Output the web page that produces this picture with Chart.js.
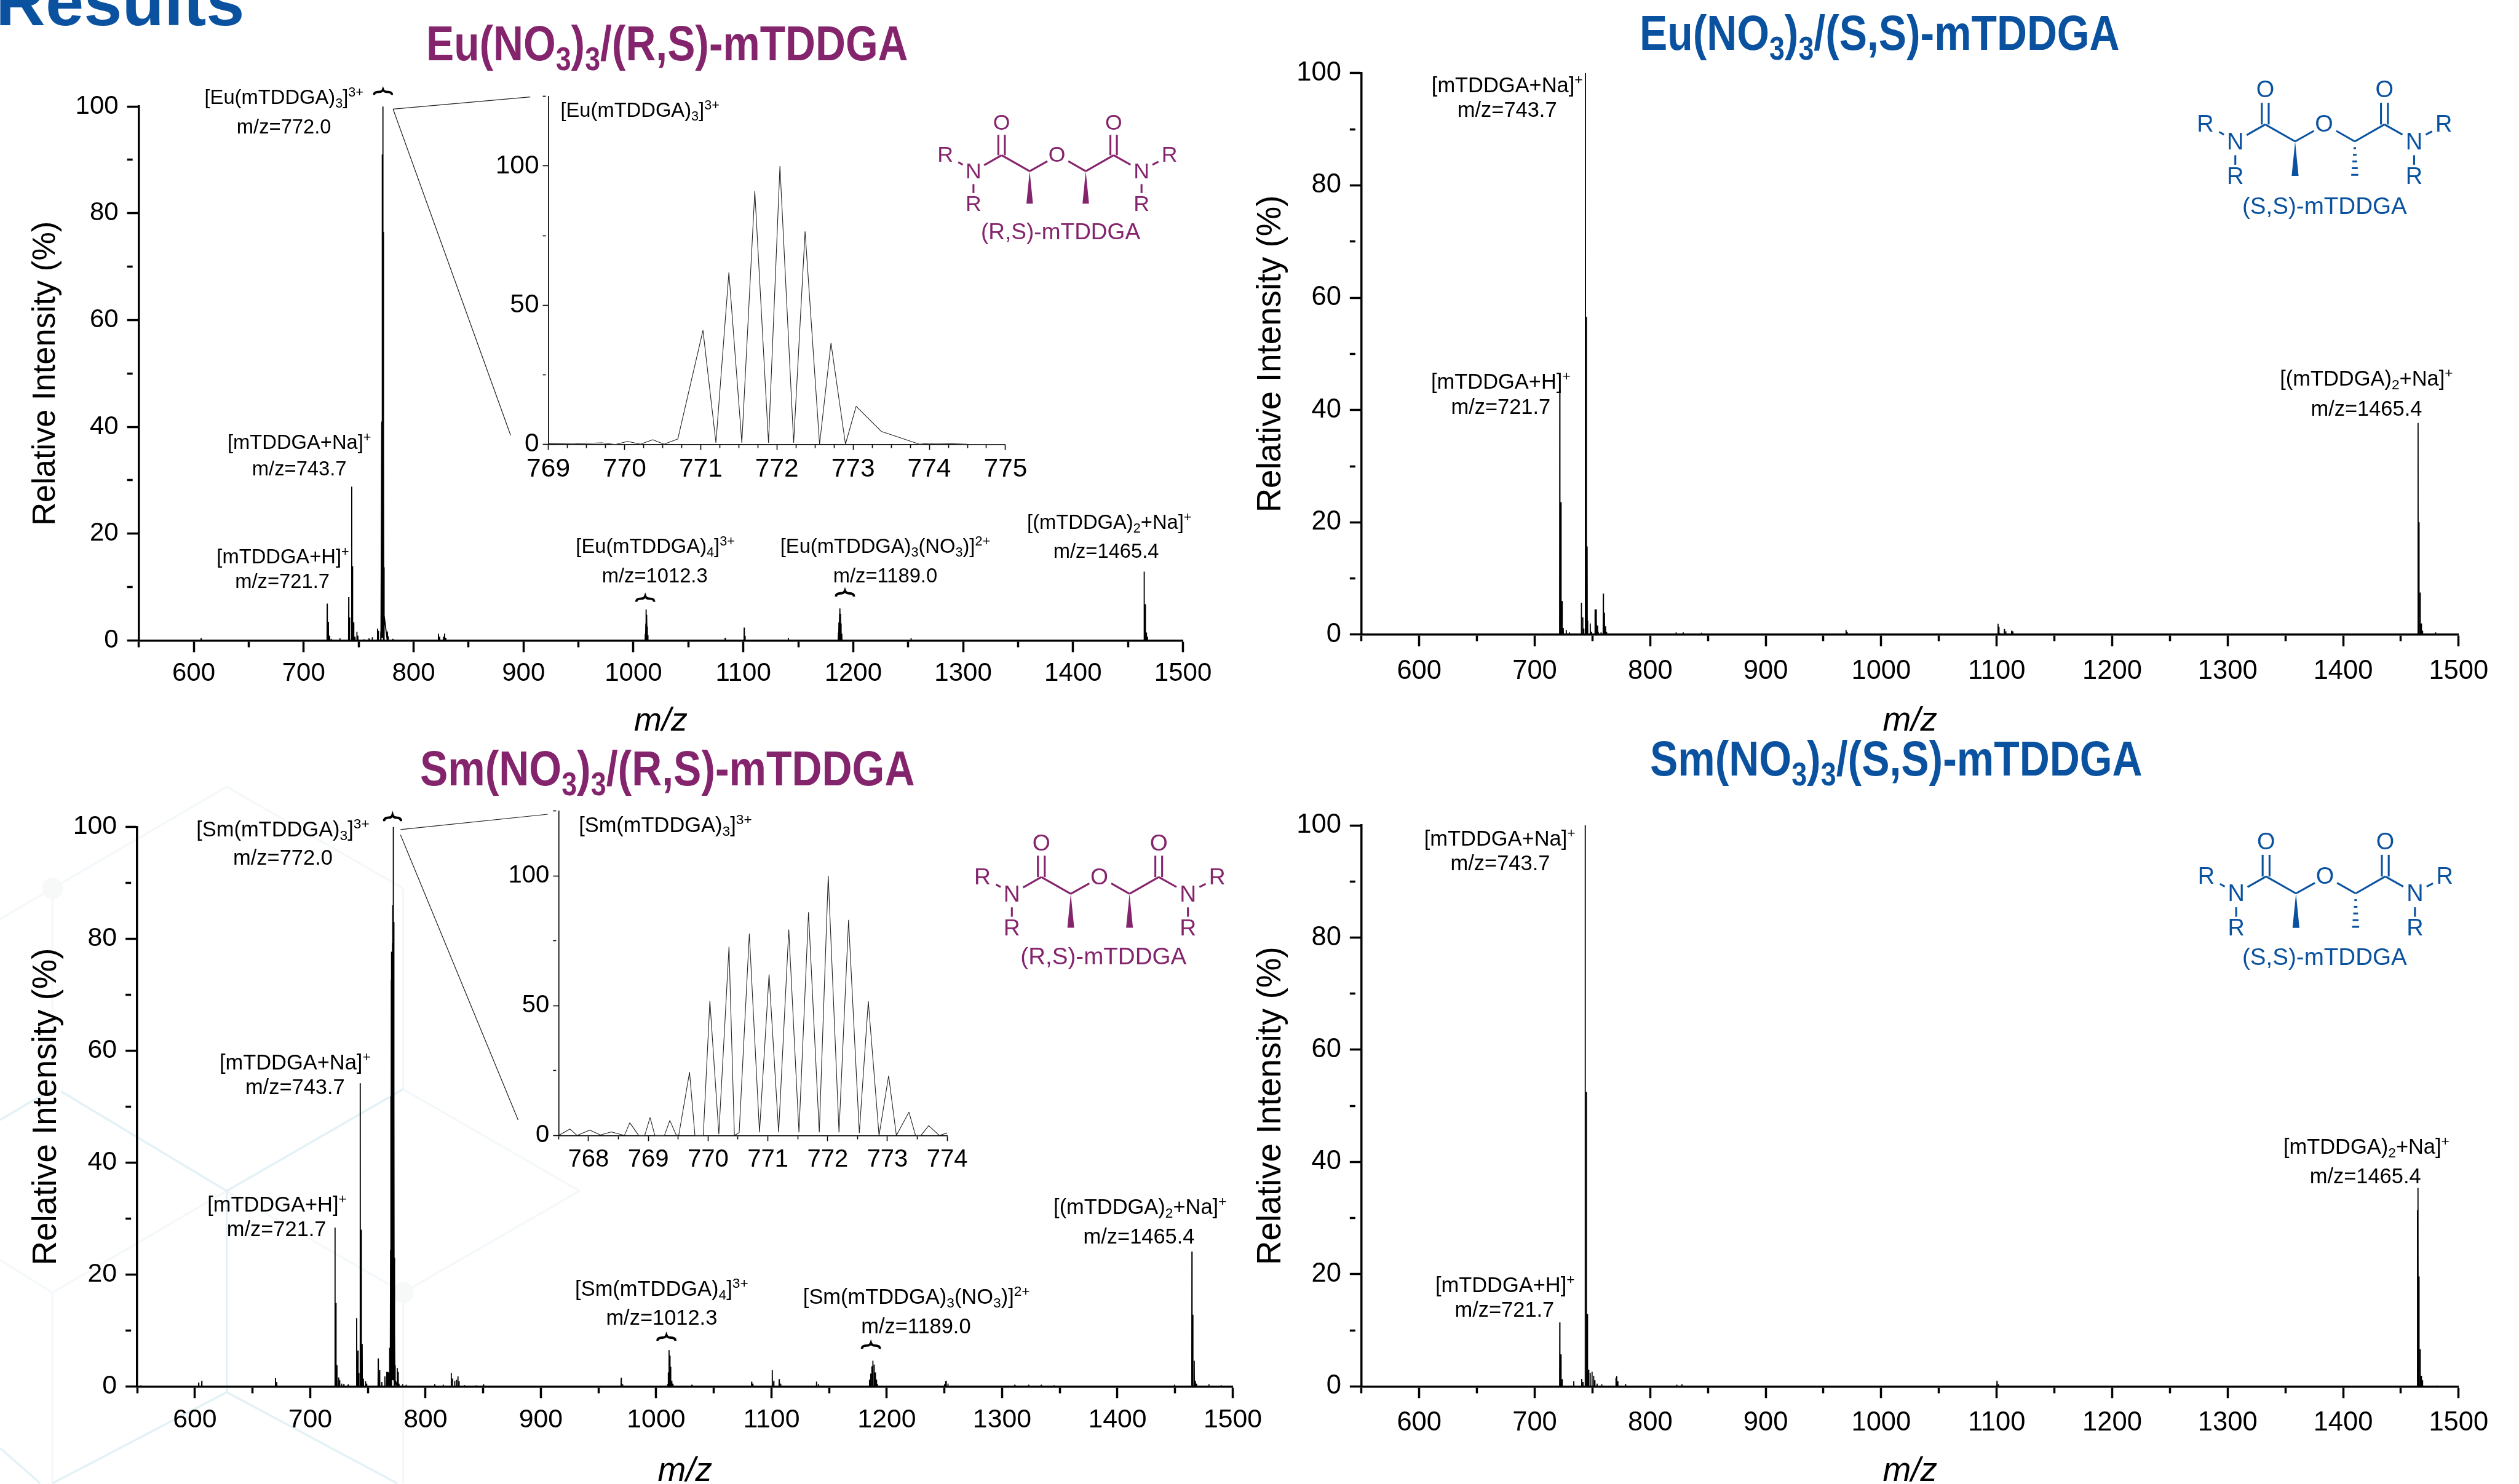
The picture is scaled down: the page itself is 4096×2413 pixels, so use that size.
<!DOCTYPE html>
<html>
<head>
<meta charset="utf-8">
<title>ESI-MS</title>
<script src="https://cdn.jsdelivr.net/npm/chart.js@4"></script>
<style>
html,body{margin:0;padding:0;background:#fff;overflow:hidden;width:4096px;height:2413px}
canvas{position:absolute;left:0;top:0}
.txt{position:absolute;line-height:0;white-space:nowrap;font-family:"Liberation Sans",Arial,sans-serif;color:#000}
.txt sub,.txt sup{font-size:.66em;line-height:0}
.txt sub{vertical-align:-.3em}
.txt sup{vertical-align:.55em}
</style>
</head>
<body>
<script>
//Datos: Eu(NO3)3/(R,S)-mTDDGA
const euRSmzAntes=[606.7,721.4,722.5,723.6,725,729.7,733,741,741.8,743.7,744.5,745.5,746.6,748.4,749.3,755,759.5,762.4,767.2,768,770.2];
const euRSintAntes=[0.45,6.9,3.5,0.9,0.3,0.1,0.4,8.1,4.3,28.8,13.9,3.4,0.7,1.6,0.9,0.2,0.4,0.6,2.2,1.8,1.7];
const euRSmzDespues=[776.2,776.8,781.2,822.6,823.7,827,828.2,829.3,837.9,1010.8,1011.3,1011.7,1012,1012.3,1012.7,1013.2,1083.5,1100.8,1101.6,1140.9,1186.5,1187,1187.6,1188,1188.5,1189,1189.6,1252.6,1464.7,1465.7,1466.7,1467.7];
const euRSintDespues=[1.7,0.8,0.3,1.25,0.7,0.7,1.3,0.5,0.1,1.2,3.2,5.8,4.8,4.2,2.6,1,0.5,2.4,0.9,0.5,1.5,3.4,5,6,5,3.2,1.3,0.45,12.9,6.8,1.5,0.7];
//Zoom del pico 772 (Eu)
const euZoomMz=[769,769.33,769.7,769.88,770.04,770.21,770.37,770.52,770.7,771.03,771.2,771.37,771.54,771.71,771.89,772.04,772.22,772.37,772.56,772.71,772.9,773.04,773.37,773.87,774.03,774.5,775];
const euZoomInt=[0.3,0.2,0.6,0,1.1,0.1,1.7,0.1,2,41,0.6,61.8,0.6,91,0.6,100,0.6,76.5,0.1,36.4,0.1,13.7,4.7,0.1,0.5,0.1,0];

//Datos: Eu(NO3)3/(S,S)-mTDDGA
const euSSmz=[605,721.7,722.7,723.7,724.7,727.3,730,732.6,740.4,741.6,742.4,743.9,744.7,745.4,745.9,748.1,749.2,752.2,753,753.5,754.4,755,757.4,759.4,760.4,761.3,762.2,822.4,823.2,828.6,844.3,845,969.6,970.5,1101.2,1101.9,1102.8,1106.7,1107.9,1109,1113,1114,1115,1464.9,1465.7,1466.7,1467.7,1468.7,1480];
const euSSint=[0.2,43.5,23.6,6,1.2,0.85,0.4,0.2,5.7,3.1,1.1,100,56.6,15.7,2.5,2,0.5,4.5,4.5,3,1.6,0.5,0.4,7.3,3.9,1.5,0.5,0.4,0.15,0.4,0.35,0.15,0.85,0.5,1.95,1.4,0.3,1,0.6,0.2,0.7,0.6,0.2,37.7,20,7.5,2,0.7,0.4];

//Datos: Sm(NO3)3/(R,S)-mTDDGA
const smRSmzAntes=[553,581,603.3,606,669.9,671,707.2,715.8,721.5,722.3,723.2,724.7,725.5,727.3,729.2,733,737.3,740.3,741.4,742.2,743.4,744.2,745.1,746.1,748,748.9,759,760.2,762.1,764.8,766.4,767.1];
const smRSintAntes=[0.2,0.1,0.7,1,1.5,0.8,0.1,0.1,28.4,14.9,3.8,1.6,1.1,0.5,0.4,0.35,0.1,12.2,6.4,2.4,54.2,28,7.6,1.4,0.9,0.5,5,2.9,0.8,1.8,2.6,2.6];
const smRSmzDespues=[775.5,776.3,777,780.1,783.2,794,808,815.4,822.3,823.3,825.3,826.9,828.1,829.1,833.7,837.1,844,850.3,969.7,970.9,1009.8,1010.5,1011.2,1011.9,1012.6,1013.5,1014.5,1031,1082.8,1083.8,1100.7,1102,1106.7,1108,1139,1140.6,1185,1186,1187,1187.9,1189,1190,1191,1192,1250,1251,1251.5,1253,1311,1323,1334,1345,1449.5,1464.6,1465.4,1466.6,1467.6,1468.6,1479.3,1490];
const smRSintDespues=[3.3,2.6,0.5,0.4,0.3,0.1,0.4,0.3,2.4,1.4,1,1.2,1.8,0.9,0.2,0.15,0.2,0.35,1.55,0.4,0.4,2.5,6.5,5.5,3.5,1,0.5,0.3,0.85,0.5,2.9,1,1.3,0.5,0.85,0.4,1.2,2.3,3.6,4.6,3.9,2.5,1.2,0.4,0.4,0.9,1,0.5,0.3,0.3,0.3,0.2,0.3,24.1,12.8,4.6,1,0.5,0.4,0.2];
//Zoom del pico 772 (Sm)
const smZoomMz=[767.5,767.69,767.81,768.02,768.2,768.38,768.6,768.69,768.84,768.94,769.03,769.11,769.27,769.36,769.47,769.51,769.69,769.78,769.92,770.03,770.18,770.35,770.44,770.52,770.69,770.86,771.02,771.18,771.35,771.52,771.68,771.86,772.01,772.19,772.35,772.53,772.68,772.86,773.02,773.15,773.36,773.47,773.56,773.69,773.87,774];
const smZoomInt=[0,2.5,0,2.1,0.2,1.4,0,4.9,0,0,6.9,0,0,5.8,0,0.2,24.4,0,0,51.8,0.5,72.7,0,1.1,77.7,1.2,62,1.2,79.3,1.2,86,1.2,100,1.2,83,1,51.7,0,23,0,9,0,0,3.8,0,1];

//Datos: Sm(NO3)3/(S,S)-mTDDGA
const smSSmz=[721.7,722.7,723.7,733.8,740.7,741.8,743.7,744.7,745.7,746.7,748,749.6,751,752,754,758,770.3,771,772,778.6,823,827.5,1100.3,1101.5,1464.4,1464.9,1465.7,1466.7,1467.7,1468.7,1481];
const smSSint=[11.4,5.7,1.3,0.9,1.35,0.8,100,52.5,12.9,3,2.4,2.6,1.9,1.1,0.5,0.4,1.5,1.85,0.9,0.4,0.3,0.35,1,0.4,31.4,35.4,19.6,6.6,1.9,1.1,0.15];

//Ticks
const ejeXSpectro={min:550,max:1500,paso:50,cadaLabel:100};
const ejeYSpectro={min:0,max:100,paso:10,cadaLabel:20};
const ejeYZoom={min:0,max:125,paso:25,cadaLabel:50};
const ejeXZoomEu={min:769,max:775,paso:0.25,cadaLabel:1};
const ejeXZoomSm={min:767.5,max:774,paso:0.5,cadaLabel:1};

const W=4096, H=2413, S=W/4755;
const MORADO='#84246c', AZUL='#0a529f';
const FUENTE='"Liberation Sans"';

//Arma los puntos de la linea: cada pico sube y baja a la base
function picos(mz,ints){
 let pts=[];
 for(let i=0;i<mz.length;i++){
  pts.push({x:mz[i]-0.14,y:0},{x:mz[i],y:ints[i]},{x:mz[i]+0.14,y:0});
 }
 return pts;
}
function linea(mz,ints){
 return mz.map((m,i)=>({x:m,y:ints[i]}));
}

//Fondo hexagonal tenue de la plantilla (coordenadas de la referencia)
const hexFuerte=[[0,2114,99,2056],[115,2060,428,2248],[428,2248,761,2056],[428,2248,428,2628],[428,2628,99,2800],[428,2628,750,2800],[0,2733,76,2800]];
const hexSuave=[[99,1677,99,2056],[0,1735,99,1677],[99,1677,428,1485],[428,1485,761,1677],[761,1677,761,2056],[761,2056,1094,2248],[0,2378,99,2440],[99,2440,428,2248],[428,2248,761,2440],[761,2440,1094,2248],[99,2440,99,2800],[761,2440,761,2800]];
function dibujarFondo(ctx){
 ctx.save();
 ctx.lineWidth=4*S;
 ctx.strokeStyle='#f4f8fa';
 hexSuave.forEach(l=>seg(ctx,l[0],l[1],l[2],l[3]));
 ctx.strokeStyle='#e3f1f6';
 hexFuerte.forEach(l=>seg(ctx,l[0],l[1],l[2],l[3]));
 ctx.fillStyle='#f7f8f8';
 [[99,1677],[761,2440]].forEach(p=>{ctx.beginPath();ctx.arc(p[0]*S,p[1]*S,20*S,0,Math.PI*2);ctx.fill();});
 ctx.restore();
}
function seg(ctx,x1,y1,x2,y2){
 ctx.beginPath();
 ctx.moveTo(x1*S,y1*S);
 ctx.lineTo(x2*S,y2*S);
 ctx.stroke();
}
//Llave horizontal sobre un pico
function llave(ctx,cx,y,w,h){
 let x=cx*S, yy=y*S, a=w*S/2, b=h*S;
 ctx.save();
 ctx.lineWidth=4.4*S;
 ctx.strokeStyle='#000';
 ctx.beginPath();
 ctx.moveTo(x-a,yy+b);
 ctx.quadraticCurveTo(x-a,yy+b*0.45,x-a*0.45,yy+b*0.45);
 ctx.quadraticCurveTo(x-a*0.1,yy+b*0.45,x,yy);
 ctx.quadraticCurveTo(x+a*0.1,yy+b*0.45,x+a*0.45,yy+b*0.45);
 ctx.quadraticCurveTo(x+a,yy+b*0.45,x+a,yy+b);
 ctx.stroke();
 ctx.restore();
}
//Estructura quimica: ox,oy es el O central, k la escala
function estructura(ctx,ox,oy,k,color,hash){
 const X=d=>(ox+d*k)*S, Y=d=>(oy+d*k)*S;
 ctx.save();
 ctx.strokeStyle=color;
 ctx.fillStyle=color;
 ctx.lineWidth=3.6*S;
 ctx.font=(44*k*S)+'px '+FUENTE;
 ctx.textAlign='center';
 ctx.textBaseline='middle';
 [['R',-224,0],['N',-167.5,33],['R',-167.5,98],['O',-111,-65],['O',0,0],['O',114,-65],['N',170,33],['R',226,0],['R',170,98]].forEach(t=>{
  ctx.fillText(t[0],X(t[1]),Y(t[2])+1.5*S);
 });
 const enlaces=[[-198,14,-189,19],[-146,20,-111,0],[-111,0,-54.6,32],[-54.6,32,-19,12],[23,12,58,32],[58,32,114,0],[114,0,148,19],[192,19,204,13],[-167.5,58,-167.5,76],[170,58,170,76],[-117.5,-41,-117.5,0],[-104.5,-41,-104.5,0],[107.5,-41,107.5,0],[120.5,-41,120.5,0]];
 enlaces.forEach(e=>{
  ctx.beginPath();
  ctx.moveTo(X(e[0]),Y(e[1]));
  ctx.lineTo(X(e[2]),Y(e[3]));
  ctx.stroke();
 });
 cuna(ctx,X,Y,-54.6);
 if(hash){
  for(let j=1;j<=5;j++){
   let a=1.2+j*1.1;
   ctx.beginPath();
   ctx.moveTo(X(58-a),Y(32+j*12.6));
   ctx.lineTo(X(58+a),Y(32+j*12.6));
   ctx.stroke();
  }
 }else{
  cuna(ctx,X,Y,58);
 }
 ctx.restore();
}
function cuna(ctx,X,Y,dx){
 ctx.beginPath();
 ctx.moveTo(X(dx),Y(32));
 ctx.lineTo(X(dx+6.5),Y(97));
 ctx.lineTo(X(dx-6.5),Y(97));
 ctx.closePath();
 ctx.fill();
}

//Configura un eje lineal con ticks mayores y menores
function opcionesEje(eje,fs,largo,corto,ancho,padding){
 const esMayor=v=>{
  let q=v/eje.cadaLabel;
  return Math.abs(q-Math.round(q))<1e-6;
 };
 return {
  type:'linear',
  min:eje.min,
  max:eje.max,
  grid:{
   drawOnChartArea:false,
   drawTicks:true,
   tickLength:largo,
   tickColor:'#000',
   tickWidth:ancho,
   tickBorderDash:ctx=>(ctx.tick&&esMayor(ctx.tick.value))?[]:[corto,2000]
  },
  border:{display:true,color:'#000',width:ancho},
  ticks:{
   stepSize:eje.paso,
   autoSkip:false,
   maxRotation:0,
   padding:padding,
   color:'#000',
   font:{family:FUENTE,size:fs},
   callback:v=>esMayor(v)?String(Math.round(v)):''
  }
 };
}

//Crea un grafico en su propio canvas de pantalla completa
function crearGrafico(p){
 let canvas=document.createElement('canvas');
 canvas.width=W;
 canvas.height=H;
 document.body.appendChild(canvas);
 let izq=p.l*S, der=p.r*S, arr=p.t*S, aba=p.b*S;
 let anchoY, altoX, ejeX, ejeY;
 if(p.inset){
  anchoY=120;
  altoX=80;
  ejeX=opcionesEje(p.ejeX,p.fs,9,5,1.6,p.padX);
  ejeY=opcionesEje(p.ejeY,p.fs,9,5,1.6,6);
 }else{
  let lh=p.fsY*1.2;
  anchoY=izq-(p.cxTituloY*S-lh/2);
  altoX=p.cyTituloX*S+19-aba;
  ejeX=opcionesEje(p.ejeX,p.fs,19,9,3.5,p.padX);
  ejeY=opcionesEje(p.ejeY,p.fs,19,9,3.5,14);
  ejeX.title={display:true,text:'m/z',color:'#000',padding:0,font:{family:FUENTE,size:p.fsX,style:'italic',lineHeight:0.7}};
  ejeY.title={display:true,text:'Relative Intensity (%)',color:'#000',padding:0,font:{family:FUENTE,size:p.fsY,lineHeight:1.2}};
 }
 ejeX.afterFit=s=>{s.height=altoX;};
 ejeY.afterFit=s=>{s.width=anchoY;};
 new Chart(canvas,{
  type:'line',
  data:{datasets:[{
   data:p.puntos,
   parsing:false,
   borderColor:p.inset?'#222':'#000',
   borderWidth:p.inset?1.1:1.8,
   borderJoinStyle:'bevel',
   pointRadius:0,
   tension:0,
   clip:false
  }]},
  options:{
   responsive:false,
   animation:false,
   devicePixelRatio:1,
   events:[],
   layout:{padding:{left:izq-anchoY,right:W-der,top:arr,bottom:H-aba-altoX}},
   plugins:{legend:{display:false},tooltip:{enabled:false},title:{display:false}},
   scales:{x:ejeX,y:ejeY}
  },
  plugins:[{
   id:'decoracion',
   beforeDraw(c){ if(p.fondo) dibujarFondo(c.ctx); },
   afterDraw(c){ if(p.decorar) p.decorar(c.ctx); }
  }]
 });
}

//Texto real encima de los canvas (coordenadas de la referencia: centro x, linea base y)
function texto(html,x,base,size,color,anclaIzq,anchoObj){
 let d=document.createElement('div');
 d.className='txt';
 d.innerHTML=html;
 d.style.fontSize=(size*S)+'px';
 d.style.top=((base-0.3465*size)*S)+'px';
 d.style.left=(x*S)+'px';
 if(color) d.style.color=color;
 document.body.appendChild(d);
 if(anclaIzq){
  d.style.transformOrigin='0 0';
  if(anchoObj) d.style.transform='scaleX('+(anchoObj*S/d.offsetWidth)+')';
 }else{
  d.style.transform='translateX(-50%)';
 }
}

crearGrafico({
 l:262,r:2233,t:201,b:1209,ejeX:ejeXSpectro,ejeY:ejeYSpectro,fs:42,padX:10,fsY:52.4,fsX:54,cxTituloY:86,cyTituloX:1362,fondo:true,
 puntos:picos(euRSmzAntes,euRSintAntes).concat(linea(euZoomMz.slice(9,23),euZoomInt.slice(9,23)),picos(euRSmzDespues,euRSintDespues)),
 decorar(ctx){
  ctx.save();
  ctx.strokeStyle='#222';
  ctx.lineWidth=1.2;
  seg(ctx,742,206,1001,183);
  seg(ctx,742,206,964,822);
  ctx.restore();
  llave(ctx,723,169,34,10);
  llave(ctx,1218,1125,34,11);
  llave(ctx,1595,1115,34,11);
  estructura(ctx,1995,293,0.94,MORADO,false);
 }
});
crearGrafico({inset:true,l:1035,r:1898,t:182,b:839,ejeX:ejeXZoomEu,ejeY:ejeYZoom,fs:42.5,padX:6,puntos:linea(euZoomMz,euZoomInt)});
crearGrafico({
 l:2570,r:4641,t:138,b:1198,ejeX:ejeXSpectro,ejeY:ejeYSpectro,fs:43.5,padX:15,fsY:54.6,fsX:55,cxTituloY:2400,cyTituloX:1362,
 puntos:picos(euSSmz,euSSint),
 decorar(ctx){ estructura(ctx,4387,235,1,AZUL,true); }
});
crearGrafico({
 l:259,r:2327,t:1561,b:2617,ejeX:ejeXSpectro,ejeY:ejeYSpectro,fs:42.8,padX:10,fsY:54.6,fsX:55,cxTituloY:88,cyTituloX:2778,
 puntos:picos(smRSmzAntes,smRSintAntes).concat(linea(smZoomMz,smZoomInt),picos(smRSmzDespues,smRSintDespues)),
 decorar(ctx){
  ctx.save();
  ctx.strokeStyle='#222';
  ctx.lineWidth=1.2;
  seg(ctx,756,1566,1034,1537);
  seg(ctx,756,1576,978,2114);
  ctx.restore();
  llave(ctx,741,1538,32,12);
  llave(ctx,1258,2520,34,11);
  llave(ctx,1644,2535,34,11);
  estructura(ctx,2075,1655.6,0.985,MORADO,false);
 }
});
crearGrafico({inset:true,l:1054.5,r:1788,t:1530.6,b:2143.4,ejeX:ejeXZoomSm,ejeY:ejeYZoom,fs:40,padX:7,puntos:linea(smZoomMz,smZoomInt)});
crearGrafico({
 l:2570,r:4641,t:1558,b:2617,ejeX:ejeXSpectro,ejeY:ejeYSpectro,fs:43.5,padX:15,fsY:54.8,fsX:55,cxTituloY:2400,cyTituloX:2778,
 puntos:picos(smSSmz,smSSint),
 decorar(ctx){ estructura(ctx,4388.6,1654.5,1,AZUL,true); }
});

//Titulos
texto('<b>Results</b>',-8,48,130,AZUL,true);
texto('<b>Eu(NO<sub>3</sub>)<sub>3</sub>/(R,S)-mTDDGA</b>',804,113,93,MORADO,true,910);
texto('<b>Eu(NO<sub>3</sub>)<sub>3</sub>/(S,S)-mTDDGA</b>',3095,94,93,AZUL,true,906);
texto('<b>Sm(NO<sub>3</sub>)<sub>3</sub>/(R,S)-mTDDGA</b>',793,1482,93,MORADO,true,934);
texto('<b>Sm(NO<sub>3</sub>)<sub>3</sub>/(S,S)-mTDDGA</b>',3115,1464,93,AZUL,true,929);

//Etiquetas de picos: html, centro x, linea base y, tamano
const etiquetas=[
 ['[Eu(mTDDGA)<sub>3</sub>]<sup>3+</sup>',536,187,38],['m/z=772.0',536,252,38],
 ['[mTDDGA+Na]<sup>+</sup>',565,838,38],['m/z=743.7',565,898,38],
 ['[mTDDGA+H]<sup>+</sup>',534,1055,38],['m/z=721.7',533,1110,38],
 ['[Eu(mTDDGA)<sub>4</sub>]<sup>3+</sup>',1237,1035,38],['m/z=1012.3',1236,1100,38],
 ['[Eu(mTDDGA)<sub>3</sub>(NO<sub>3</sub>)]<sup>2+</sup>',1671,1035,38],['m/z=1189.0',1671,1100,38],
 ['[(mTDDGA)<sub>2</sub>+Na]<sup>+</sup>',2094,989,38],['m/z=1465.4',2088,1053,38],
 ['[Eu(mTDDGA)<sub>3</sub>]<sup>3+</sup>',1208,212,38],
 ['[mTDDGA+Na]<sup>+</sup>',2845,164,40],['m/z=743.7',2845,220,40],
 ['[mTDDGA+H]<sup>+</sup>',2833,723,40],['m/z=721.7',2833,781,40],
 ['[(mTDDGA)<sub>2</sub>+Na]<sup>+</sup>',4467,717,40],['m/z=1465.4',4467,785,40],
 ['[Sm(mTDDGA)<sub>3</sub>]<sup>3+</sup>',534,1568,40],['m/z=772.0',534,1632,40],
 ['[mTDDGA+Na]<sup>+</sup>',557,2008,40],['m/z=743.7',557,2065,40],
 ['[mTDDGA+H]<sup>+</sup>',523,2276,40],['m/z=721.7',522,2333,40],
 ['[Sm(mTDDGA)<sub>4</sub>]<sup>3+</sup>',1249,2435,40],['m/z=1012.3',1249,2501,40],
 ['[Sm(mTDDGA)<sub>3</sub>(NO<sub>3</sub>)]<sup>2+</sup>',1730,2451,40],['m/z=1189.0',1729,2517,40],
 ['[(mTDDGA)<sub>2</sub>+Na]<sup>+</sup>',2152,2281,40],['m/z=1465.4',2150,2347,40],
 ['[Sm(mTDDGA)<sub>3</sub>]<sup>3+</sup>',1256,1560,40],
 ['[mTDDGA+Na]<sup>+</sup>',2831,1586,40],['m/z=743.7',2832,1643,40],
 ['[mTDDGA+H]<sup>+</sup>',2841,2428,40],['m/z=721.7',2840,2485,40],
 ['[mTDDGA)<sub>2</sub>+Na]<sup>+</sup>',4467,2167,40],['m/z=1465.4',4465,2233,40]
];
etiquetas.forEach(e=>texto(e[0],e[1],e[2],e[3]));

//Nombres bajo las estructuras
texto('(R,S)-mTDDGA',2002,451,43,MORADO);
texto('(S,S)-mTDDGA',4388,405,44.8,AZUL);
texto('(R,S)-mTDDGA',2083,1821,44.8,MORADO);
texto('(S,S)-mTDDGA',4388,1822,44.8,AZUL);
</script>
</body>
</html>
